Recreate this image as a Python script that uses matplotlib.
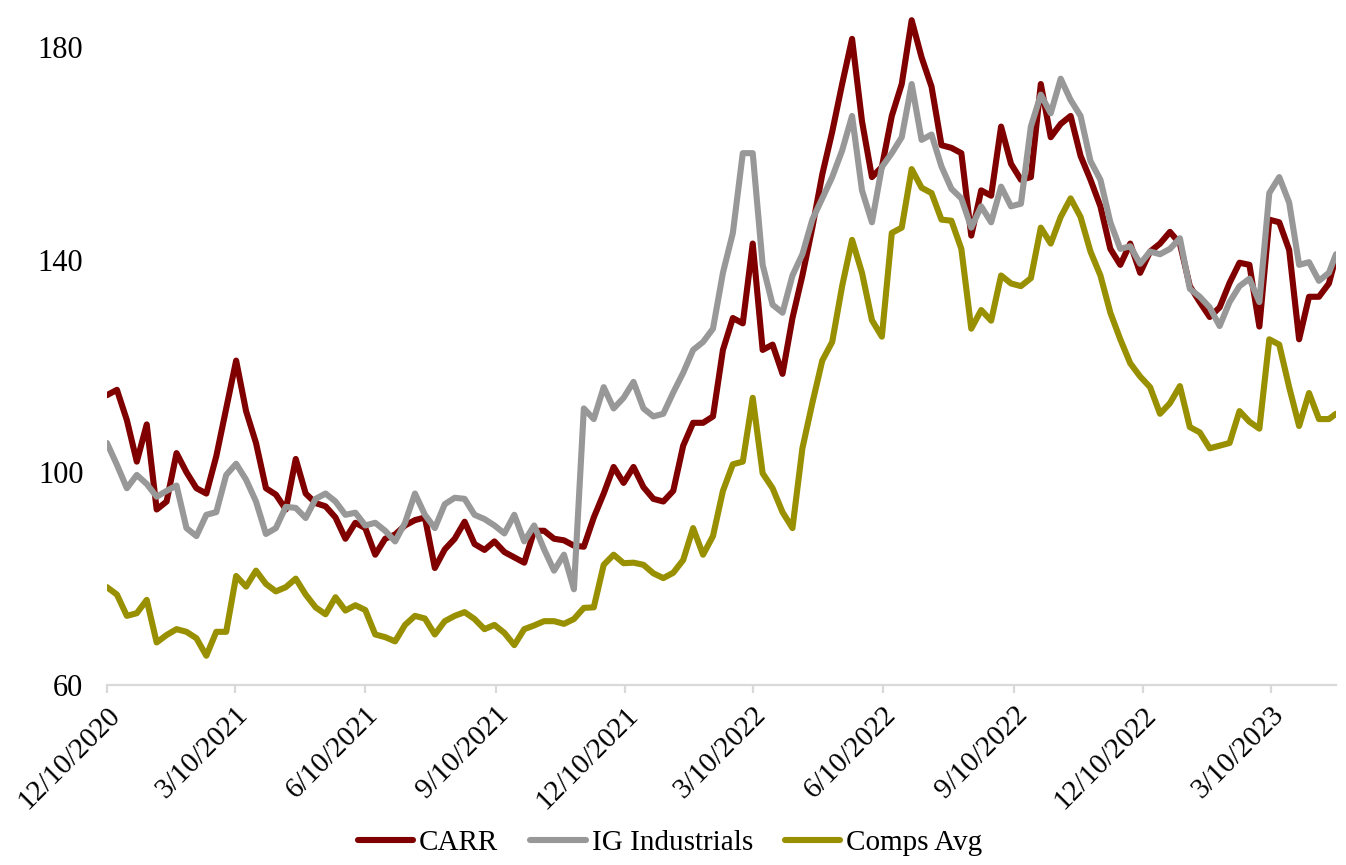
import matplotlib
matplotlib.use("Agg")
import matplotlib.pyplot as plt
import pandas as pd

plt.rcParams['font.family'] = ['Liberation Serif', 'DejaVu Serif']

# weekly observation dates (plus final observation)
dates = list(pd.date_range('2020-12-10', periods=124, freq='7D')) + [pd.Timestamp('2023-04-25')]

carr = [
    114.5, 115.5, 109.8, 102, 109, 93, 94.5, 103.6, 100, 97,
    96, 103, 112, 121, 111.5, 105.5, 97, 95.8, 93, 102.5,
    96, 94.2, 93.6, 91.5, 87.5, 90.5, 89.5, 84.5, 87.5, 88.3,
    90, 91, 91.5, 82, 85.5, 87.5, 90.7, 86.5, 85.4, 87,
    85, 84, 83, 89, 89, 87.5, 87.2, 86.2, 86, 91.5,
    96, 101, 98, 101, 97.2, 95, 94.5, 96.5, 105, 109.3,
    109.3, 110.5, 123, 129, 128, 143, 123, 124, 118.5, 129,
    137, 146, 156, 164, 173, 181.5, 166, 155.5, 157.4, 167,
    173, 185, 178, 172.5, 161.5, 161, 160, 144.5, 153, 152,
    165, 158, 155, 155.5, 173, 163, 165.5, 167, 159.5, 155,
    150, 142, 139, 143, 137.5, 141.5, 143, 145.2, 143, 135,
    132, 129.2, 131, 135.6, 139.4, 139, 127.4, 147.5, 147, 141.8,
    125, 133, 133, 135.5, 140.5,
]

ig_industrials = [
    105.5, 101.4, 97, 99.5, 97.8, 95.4, 96.5, 97.5, 89.5, 88,
    92, 92.5, 99.5, 101.6, 98.6, 94.5, 88.4, 89.5, 93.5, 93.3,
    91.4, 95, 96, 94.5, 92, 92.4, 90, 90.5, 89, 87,
    90.5, 96, 92, 89.5, 94, 95.2, 95, 92, 91.2, 90,
    88.5, 92, 87, 90, 85.5, 81.5, 84.5, 78, 112, 110,
    116, 112, 114, 117, 112, 110.5, 111, 115, 118.7, 123,
    124.5, 127, 137.5, 145, 160, 160, 139, 131.5, 130, 137,
    141, 147.5, 151.5, 155.5, 160.5, 167, 153, 147, 157.4, 160,
    163, 173, 162.5, 163.5, 157.5, 153.3, 151.5, 146, 150, 147,
    153.7, 150, 150.5, 165, 171, 167.5, 174, 170, 167, 158.5,
    155, 147, 142, 142.5, 139.2, 141.5, 141, 142, 144, 134.5,
    133, 131, 127.5, 132, 135, 136.4, 132, 152.5, 155.5, 150.7,
    139, 139.5, 136, 137.5, 141,
]

comps_avg = [
    78.4, 77, 73, 73.5, 76, 68, 69.4, 70.5, 70, 68.8,
    65.5, 70, 70, 80.5, 78.5, 81.5, 79, 77.6, 78.4, 80,
    77, 74.6, 73.3, 76.5, 74, 75, 74.1, 69.5, 69, 68.2,
    71.3, 73, 72.5, 69.5, 72, 73, 73.7, 72.4, 70.5, 71.3,
    69.8, 67.5, 70.5, 71.2, 72, 72, 71.5, 72.4, 74.5, 74.6,
    82.6, 84.5, 82.9, 83, 82.6, 81, 80.1, 81.1, 83.5, 89.5,
    84.5, 88, 96.5, 101.5, 102, 114, 99.8, 97, 92.5, 89.5,
    104.5, 113, 121, 124.5, 135, 143.7, 137.5, 128.6, 125.5, 145,
    146, 157, 153.5, 152.5, 147.5, 147.3, 142, 127, 130.5, 128.5,
    137, 135.5, 135, 136.5, 146, 143, 148, 151.5, 148, 141.5,
    137, 130, 125, 120.5, 118, 116, 111, 113, 116.2, 108.5,
    107.5, 104.5, 105, 105.5, 111.5, 109.5, 108.2, 125, 124, 116,
    108.7, 114.9, 110, 110, 111,
]

series_names = ['CARR', 'IG Industrials', 'Comps Avg']
series_colors = ['#800000', '#989898', '#989000']

tick_dates = ['2020-12-10', '2021-03-10', '2021-06-10', '2021-09-10', '2021-12-10',
              '2022-03-10', '2022-06-10', '2022-09-10', '2022-12-10', '2023-03-10']
tick_labels = ['12/10/2020', '3/10/2021', '6/10/2021', '9/10/2021', '12/10/2021',
               '3/10/2022', '6/10/2022', '9/10/2022', '12/10/2022', '3/10/2023']
y_ticks = [60, 100, 140, 180]

W, H = 1346, 865
fig = plt.figure(figsize=(W / 100, H / 100), dpi=100)
ax = fig.add_axes([107 / W, 180 / H, (1336 - 107) / W, 685 / H])

for vals, name, col in zip([carr, ig_industrials, comps_avg], series_names, series_colors):
    ax.plot(dates, vals, color=col, lw=4.4, label=name,
            solid_joinstyle='round', solid_capstyle='round')

ax.set_xlim(pd.Timestamp('2020-12-10'), pd.Timestamp('2023-04-25'))
ax.set_ylim(60, 188.8)
ax.set_yticks(y_ticks)
ax.set_yticklabels([str(v) for v in y_ticks])
ax.set_xticks([pd.Timestamp(d) for d in tick_dates])
ax.set_xticklabels(tick_labels, rotation=45, ha='right', rotation_mode='anchor')

for s in ['top', 'right', 'left']:
    ax.spines[s].set_visible(False)
ax.spines['bottom'].set_color('#d9d9d9')
ax.spines['bottom'].set_linewidth(1.6)
ax.tick_params(axis='x', direction='out', length=6, width=1.6, color='#d9d9d9',
               labelsize=21, pad=6)
ax.tick_params(axis='y', length=0, labelsize=22, pad=17)

fig.legend(loc='center', bbox_to_anchor=(670 / W, 1 - 843 / H), ncol=3, frameon=False,
           fontsize=21, handlelength=1.9, handletextpad=0.2, columnspacing=1.1)

fig.savefig('out.png', dpi=100)
